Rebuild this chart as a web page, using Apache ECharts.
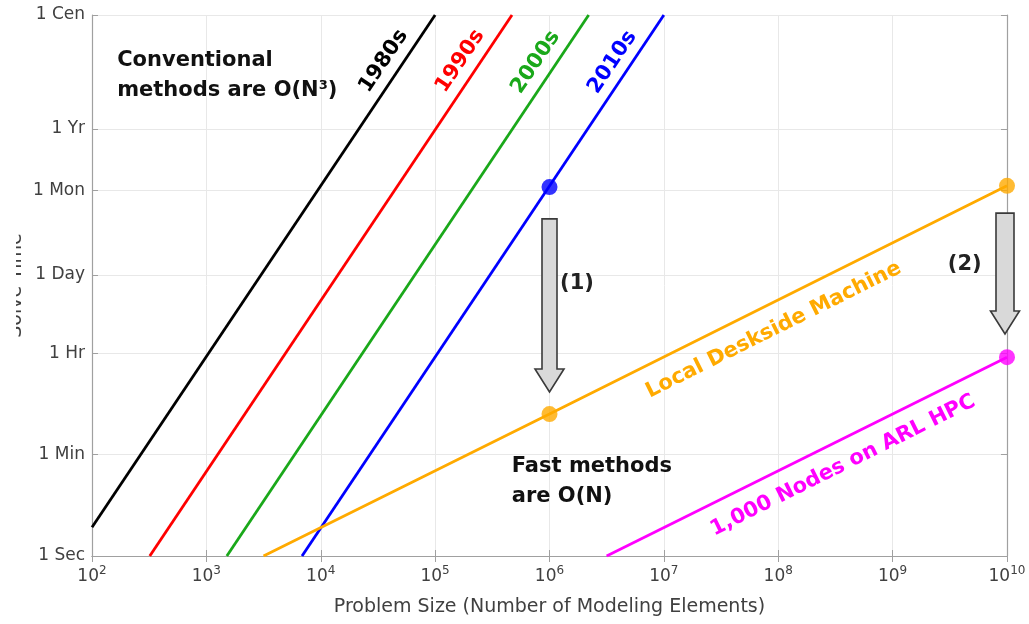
<!DOCTYPE html>
<html>
<head>
<meta charset="utf-8">
<title>Solve Time vs Problem Size</title>
<script src="https://cdn.jsdelivr.net/npm/echarts@6/dist/echarts.min.js"></script>
<style>
  html, body { margin: 0; padding: 0; background: #fff; }
  #chart { width: 1029px; height: 624px; }
</style>
</head>
<body>
<div id="chart"></div>
<script>
// values: [problem size N, solve time in seconds]
var line1980s = [[100, 3.2], [1.0e5, 3.16e9]];
var line1990s = [[320, 1], [4.7e5, 3.16e9]];
var line2000s = [[1510, 1], [2.2e6, 3.16e9]];
var line2010s = [[6860, 1], [1.0e7, 3.16e9]];
var deskside = [[3160, 1], [1.0e6, 310], [1.0e10, 3.16e6]];
var arlHpc = [[3.16e6, 1], [1.0e10, 3100]];

var bluePoints = [[1.0e6, 3.0e6]];
var orangePoints = [[1.0e6, 310], [1.0e10, 3.16e6]];
var magentaPoints = [[1.0e10, 3100]];

// arrows: [N, from seconds, to seconds]
var arrows = [[1.0e6, 8.3e5, 760], [1.0e10, 1.05e6, 7900]];

var xExponents = [2, 3, 4, 5, 6, 7, 8, 9, 10];
var timeTicks = [1, 60, 3600, 86400, 2592000, 31557600, 3155760000];
var timeTickLabels = ['1 Sec', '1 Min', '1 Hr', '1 Day', '1 Mon', '1 Yr', '1 Cen'];

function lg(p) { return [Math.log10(p[0]), Math.log10(p[1])]; }

var myChart = echarts.init(document.getElementById('chart'));

var yTickVals = timeTicks.map(function (t) { return Math.log10(t); });
var yMax = Math.log10(timeTicks[timeTicks.length - 1]);
var axisGray = '#a0a0a0';
var textGray = '#404040';
var font = '"DejaVu Sans", sans-serif';

// text notes placed in data coordinates (log10 N, log10 s); slope = decades of time per decade of N
var notes = [
    { at: [4.55, 8.69], text: '1980s', color: '#000000', slope: 3 },
    { at: [5.22, 8.69], text: '1990s', color: '#ff0000', slope: 3 },
    { at: [5.88, 8.67], text: '2000s', color: '#1aa81a', slope: 3 },
    { at: [6.55, 8.67], text: '2010s', color: '#0000ff', slope: 3 },
    { at: [7.96, 3.97], text: 'Local Deskside Machine', color: '#ffaa00', slope: 1 },
    { at: [8.565, 1.59], text: '1,000 Nodes on ARL HPC', color: '#ff00ff', slope: 1 },
    { at: [2.22, 8.43], text: 'Conventional\nmethods are O(N\u00b3)', color: '#111111', align: 'left' },
    { at: [5.67, 1.31], text: 'Fast methods\nare O(N)', color: '#111111', align: 'left' },
    { at: [6.24, 4.78], text: '(1)', color: '#222222' },
    { at: [9.63, 5.11], text: '(2)', color: '#222222' }
];

function lineSeries(name, pts, color) {
    return {
        name: name,
        type: 'line',
        data: pts.map(lg),
        symbol: 'none',
        lineStyle: { color: color, width: 2.8 },
        clip: true,
        z: 3
    };
}

function dotSeries(pts, color) {
    return {
        type: 'scatter',
        data: pts.map(lg),
        symbolSize: 16,
        itemStyle: { color: color },
        z: 5
    };
}

var option = {
    animation: false,
    grid: { left: 92, right: 22, top: 15, bottom: 68, outerBoundsMode: 'none', containLabel: false },
    // the y-axis title is cut off at the left edge in the original figure
    graphic: [{
        type: 'rect',
        left: 0,
        top: 0,
        shape: { width: 16, height: 624 },
        style: { fill: '#ffffff' },
        z: 100
    }],
    xAxis: [
        {
            type: 'value',
            min: 2,
            max: 10,
            interval: 1,
            name: 'Problem Size (Number of Modeling Elements)',
            nameLocation: 'middle',
            nameGap: 42,
            nameMoveOverlap: false,
            nameTextStyle: { fontSize: 19, color: textGray, fontFamily: font },
            axisLine: { show: true, lineStyle: { color: axisGray, width: 1.2 } },
            axisTick: { show: true, inside: true, length: 6, lineStyle: { color: axisGray } },
            splitLine: { show: true, lineStyle: { color: '#e8e8e8', width: 1 } },
            axisLabel: {
                margin: 9,
                formatter: function (v) { return '{b|10}{s|' + v + '}'; },
                rich: {
                    b: { fontSize: 17, color: textGray, fontFamily: font },
                    s: { fontSize: 12, color: textGray, fontFamily: font, padding: [0, 0, 12, 0] }
                }
            }
        },
        {
            type: 'value',
            position: 'top',
            min: 2,
            max: 10,
            interval: 1,
            axisLine: { show: true, lineStyle: { color: axisGray, width: 1.2 } },
            axisTick: { show: true, inside: true, length: 6, lineStyle: { color: axisGray } },
            axisLabel: { show: false },
            splitLine: { show: false }
        }
    ],
    yAxis: [
        {
            type: 'value',
            min: 0,
            max: yMax,
            name: 'Solve Time',
            nameLocation: 'middle',
            nameGap: 66,
            nameMoveOverlap: false,
            nameTextStyle: { fontSize: 19, color: textGray, fontFamily: font },
            axisLine: { show: true, lineStyle: { color: axisGray, width: 1.2 } },
            axisTick: { show: true, inside: true, length: 6, customValues: yTickVals, lineStyle: { color: axisGray } },
            splitLine: { show: true, lineStyle: { color: '#e8e8e8', width: 1 } },
            axisLabel: {
                customValues: yTickVals,
                margin: 7,
                fontSize: 17,
                color: textGray,
                fontFamily: font,
                formatter: function (v) {
                    for (var i = 0; i < yTickVals.length; i++) {
                        if (Math.abs(yTickVals[i] - v) < 1e-6) return timeTickLabels[i];
                    }
                    return '';
                }
            }
        },
        {
            type: 'value',
            position: 'right',
            min: 0,
            max: yMax,
            axisLine: { show: true, lineStyle: { color: axisGray, width: 1.2 } },
            axisTick: { show: true, inside: true, length: 6, customValues: yTickVals, lineStyle: { color: axisGray } },
            axisLabel: { show: false },
            splitLine: { show: false }
        }
    ],
    series: [
        lineSeries('1980s', line1980s, '#000000'),
        lineSeries('1990s', line1990s, '#ff0000'),
        lineSeries('2000s', line2000s, '#1aa81a'),
        lineSeries('2010s', line2010s, '#0000ff'),
        lineSeries('Local Deskside Machine', deskside, '#ffaa00'),
        lineSeries('1,000 Nodes on ARL HPC', arlHpc, '#ff00ff'),
        dotSeries(bluePoints, '#0000ff'),
        dotSeries(orangePoints, '#ffaa00'),
        dotSeries(magentaPoints, '#ff00ff'),
        {
            type: 'custom',
            data: arrows.map(function (a) { return [Math.log10(a[0]), Math.log10(a[1]), Math.log10(a[2])]; }),
            z: 6,
            renderItem: function (params, api) {
                var top = api.coord([api.value(0), api.value(1)]);
                var tip = api.coord([api.value(0), api.value(2)]);
                var x = top[0] - (params.dataIndex === 0 ? 0 : 2);
                var sw = params.dataIndex === 0 ? 7.5 : 9;
                var hw = 14.5;
                var hl = 23;
                var hy = tip[1] - hl;
                return {
                    type: 'polygon',
                    shape: {
                        points: [
                            [x - sw, top[1]], [x + sw, top[1]], [x + sw, hy], [x + hw, hy],
                            [x, tip[1]], [x - hw, hy], [x - sw, hy]
                        ]
                    },
                    style: { fill: '#d9d9d9', stroke: '#3a3a3a', lineWidth: 1.6 }
                };
            }
        },
        {
            type: 'custom',
            data: notes.map(function (n) { return n.at; }),
            z: 7,
            renderItem: function (params, api) {
                var n = notes[params.dataIndex];
                var p = api.coord([api.value(0), api.value(1)]);
                var rot = 0;
                if (n.slope) {
                    var s = api.size([1, n.slope]);
                    rot = Math.atan2(s[1], s[0]);
                }
                return {
                    type: 'text',
                    x: p[0],
                    y: p[1],
                    rotation: rot,
                    style: {
                        text: n.text,
                        fill: n.color,
                        font: 'bold 21px ' + font,
                        align: n.align || 'center',
                        verticalAlign: 'middle',
                        lineHeight: 30
                    }
                };
            }
        }
    ]
};

myChart.setOption(option);
</script>
</body>
</html>
